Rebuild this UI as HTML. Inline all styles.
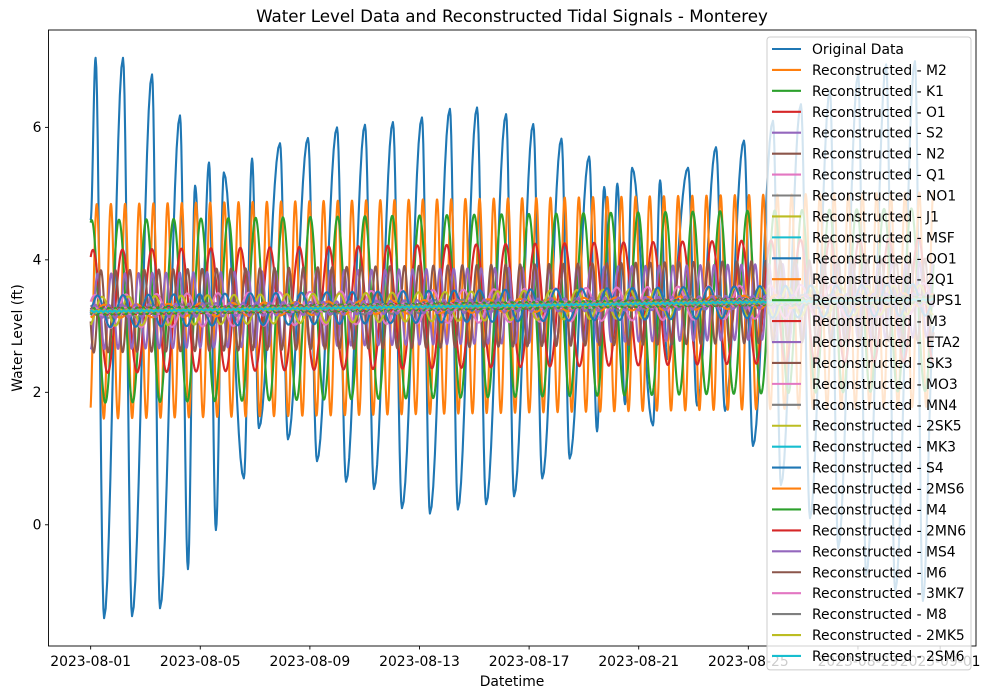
<!DOCTYPE html>
<html><head><meta charset="utf-8">
<style>
html,body{margin:0;padding:0;background:#fff;}
svg{display:block;font-family:"DejaVu Sans","Liberation Sans",sans-serif;}
</style></head>
<body>
<svg id="chart" width="988" height="699" viewBox="0 0 988 699" xmlns="http://www.w3.org/2000/svg">
<rect x="0" y="0" width="988" height="699" fill="#fff"/>
<text x="512" y="22" text-anchor="middle" font-size="16.7" fill="#000">Water Level Data and Reconstructed Tidal Signals - Monterey</text>
<g id="plot"></g>
<g id="axes"></g>
<g id="legend"></g>
<text x="512" y="686" text-anchor="middle" font-size="13.9" fill="#000">Datetime</text>
<text transform="translate(22,338) rotate(-90)" text-anchor="middle" font-size="13.9" fill="#000">Water Level (ft)</text>
</svg>
<script>
// ---- data ----
// Original data extrema: time (days since 2023-08-01) and level (ft)
const origTimes = [0,0.18,0.49,1.18,1.51,2.24,2.53,3.26,3.55,3.81,4.06,4.32,4.57,4.86,5.59,5.89,6.14,6.91,7.20,7.93,8.26,8.99,9.32,10.01,10.34,11.03,11.36,12.09,12.38,13.11,13.40,14.10,14.43,15.16,15.45,16.15,16.48,17.18,17.48,18.19,18.48,18.74,19.00,19.22,19.50,19.76,20.52,20.78,21.04,21.80,22.13,22.82,23.15,23.84,24.17,24.90,25.19,25.92,26.25,26.98,27.28,28.01,28.30,29.03,29.36,30.08,30.37,30.77];
const origLevels = [4.6,7.05,-1.41,7.05,-1.38,6.8,-1.26,6.18,-0.67,5.12,3.2,5.47,-0.08,5.32,0.70,5.53,1.46,5.76,1.29,5.84,0.96,6.0,0.65,6.04,0.54,6.08,0.25,6.15,0.17,6.28,0.23,6.30,0.31,6.2,0.43,6.05,0.70,5.83,1.0,5.56,1.41,5.1,2.8,5.15,1.82,5.39,1.5,5.2,2.5,5.39,1.8,5.7,1.72,5.8,1.19,6.1,0.6,6.35,0.1,6.55,-0.35,6.8,-0.75,6.95,-1.0,7.0,-1.15,3.0];
// Constituents
const constNames = ["M2","K1","O1","S2","N2","Q1","NO1","J1","MSF","OO1","2Q1","UPS1","M3","ETA2","SK3","MO3","MN4","2SK5","MK3","S4","2MS6","M4","2MN6","MS4","M6","3MK7","M8","2MK5","2SM6"];
const constAmps = [1.62,1.38,0.93,0.57,0.62,0.25,0.10,0.22,0.0,0.24,0.10,0.05,0.05,0.10,0.05,0.05,0.03,0.02,0.03,0.02,0.02,0.05,0.02,0.03,0.02,0.01,0.01,0.02,0.01];
const constPeriods = [12.42,23.93,25.82,12.0,12.66,26.87,24.83,23.1,354.4,22.31,28.0,21.58,8.28,11.75,7.99,8.39,6.27,4.93,8.18,6.0,4.09,6.21,4.17,6.10,4.14,3.53,3.1,4.93,4.0];
const constPeakHours = [5.3,0.9,2.0,6.0,9.0,4.0,3.0,10.0,0,6.0,12,3,2,4,1,5,2,1,3,2,1,3,2,1,2,1,1,2,1];
const meanStart = 3.22;
const meanEnd = 3.40;
const colors = ["#1f77b4","#ff7f0e","#2ca02c","#d62728","#9467bd","#8c564b","#e377c2","#7f7f7f","#bcbd22","#17becf"];
const yTicks = [0,2,4,6];
const xTickDays = [0,4,8,12,16,20,24,28,31];
const xTickLabels = ["2023-08-01","2023-08-05","2023-08-09","2023-08-13","2023-08-17","2023-08-21","2023-08-25","2023-08-29","2023-09-01"];
const tEnd = 30.77;

// ---- scales ----
const X0=48.5, X1=976, Y0=30, Y1=646;
const xMin=-0.05*tEnd, xMax=tEnd*1.05;
const yMin=-1.83, yMax=7.47;
const LW_LINE=2.1;
function xs(t){return X0+(t-xMin)/(xMax-xMin)*(X1-X0);}
function ys(v){return Y1-(v-yMin)/(yMax-yMin)*(Y1-Y0);}
const NS="http://www.w3.org/2000/svg";
function mk(tag,attrs,parent){const e=document.createElementNS(NS,tag);for(const k in attrs)e.setAttribute(k,attrs[k]);parent.appendChild(e);return e;}

const plot=document.getElementById('plot');
const defs=mk('defs',{},document.getElementById('chart'));
const cp=mk('clipPath',{id:'clip'},defs);
mk('rect',{x:X0,y:Y0,width:X1-X0,height:Y1-Y0},cp);
plot.setAttribute('clip-path','url(#clip)');

// original series
(function(){
  let d='';
  for(let i=0;i<origTimes.length-1;i++){
    const t0=origTimes[i],t1=origTimes[i+1],v0=origLevels[i],v1=origLevels[i+1];
    const n=12;
    for(let k=(i===0?0:1);k<=n;k++){
      const f=k/n, t=t0+(t1-t0)*f, v=v0+(v1-v0)*(1-Math.cos(Math.PI*f))/2;
      d+=(d?'L':'M')+xs(t).toFixed(2)+','+ys(v).toFixed(2);
    }
  }
  const p=mk('path',{d:d,fill:'none',stroke:colors[0],'stroke-width':LW_LINE,'stroke-linejoin':'round'},plot);
  
  
})();

// reconstructed series
constNames.forEach(function(name,i){
  let d='';
  const step=0.25/24;
  for(let t=0;t<=tEnd+1e-9;t+=step){
    const m=meanStart+(meanEnd-meanStart)*t/tEnd;
    const v=m+constAmps[i]*Math.cos(2*Math.PI*(t*24-constPeakHours[i])/constPeriods[i]);
    d+=(d?'L':'M')+xs(t).toFixed(2)+','+ys(v).toFixed(2);
  }
  const p=mk('path',{d:d,fill:'none',stroke:colors[(i+1)%10],'stroke-width':LW_LINE,'stroke-linejoin':'round'},plot);
  
  
});

// axes
const axes=document.getElementById('axes');
const frame=mk('rect',{x:X0,y:Y0,width:X1-X0,height:Y1-Y0,fill:'none',stroke:'#000','stroke-width':0.9},axes);


yTicks.forEach(function(v){
  const y=ys(v);
  const tk=mk('line',{x1:X0,x2:X0-3.5,y1:y,y2:y,stroke:'#000','stroke-width':0.9},axes);
  
  
  const tx=mk('text',{x:X0-7,y:y+4.8,'text-anchor':'end','font-size':13.9,fill:'#000'},axes);
  tx.textContent=String(v);
  
  
});
xTickDays.forEach(function(t,i){
  const x=xs(t);
  const tk=mk('line',{x1:x,x2:x,y1:Y1,y2:Y1+3.5,stroke:'#000','stroke-width':0.9},axes);
  
  
  const tx=mk('text',{x:x,y:Y1+20,'text-anchor':'middle','font-size':13.9,fill:'#000'},axes);
  tx.textContent=xTickLabels[i];
  
  
});

// legend
const lg=document.getElementById('legend');
const LX=767, LY=37, LW=204, rowH=20.93;
const allNames=["Original Data"].concat(constNames.map(function(n){return "Reconstructed - "+n;}));
const box=mk('rect',{x:LX,y:LY,width:LW,height:allNames.length*rowH+5,rx:3,fill:'#fff','fill-opacity':0.8,stroke:'#ccc','stroke-width':1},lg);


allNames.forEach(function(n,i){
  const y=LY+12+i*rowH;
  const g=mk('g',{},lg);
  
  
  mk('line',{x1:LX+5,x2:LX+34,y1:y,y2:y,stroke:colors[i%10],'stroke-width':LW_LINE},g);
  const tx=mk('text',{x:LX+45,y:y+5,'font-size':13.9,fill:'#000'},g);
  tx.textContent=n;
});
</script>
</body></html>
